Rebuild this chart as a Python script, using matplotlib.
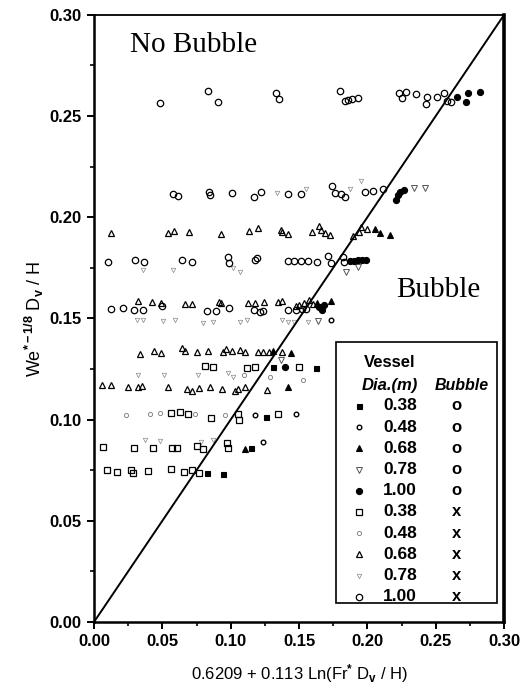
import numpy as np
import matplotlib
matplotlib.use('Agg')
import matplotlib.pyplot as plt
from matplotlib.patches import Rectangle
from matplotlib.ticker import MultipleLocator

plt.rcParams['font.family'] = ['Liberation Sans', 'DejaVu Sans']
plt.rcParams['font.weight'] = 'bold'
plt.rcParams['mathtext.fontset'] = 'custom'
plt.rcParams['mathtext.rm'] = 'Liberation Sans:bold'
plt.rcParams['mathtext.it'] = 'Liberation Sans:bold'
plt.rcParams['mathtext.bf'] = 'Liberation Sans:bold'
plt.rcParams['mathtext.default'] = 'rm'

# ---- data: vessel diameter (m) / bubble observed (o) or not (x) ----
# 0.38 m, bubble
x038_o = [0.0829, 0.0946, 0.1145, 0.1255, 0.1313, 0.1621]
y038_o = [0.0737, 0.0732, 0.0860, 0.1013, 0.1260, 0.1256]
# 0.48 m, bubble
x048_o = [0.1181, 0.1475, 0.1233, 0.1731]
y048_o = [0.1023, 0.1028, 0.0890, 0.1493]
# 0.68 m, bubble
x068_o = [0.2054, 0.2091, 0.2164, 0.1629, 0.1731, 0.1306, 0.1438, 0.1423, 0.1108]
y068_o = [0.1943, 0.1923, 0.1913, 0.1577, 0.1587, 0.1340, 0.1330, 0.1162, 0.0855]
# 0.78 m, bubble
x078_o = [0.2340, 0.2421, 0.1841, 0.1930, 0.1365, 0.1636]
y078_o = [0.2145, 0.2145, 0.1730, 0.1755, 0.1295, 0.1488]
# 1.00 m, bubble
x100_o = [0.2656, 0.2722, 0.2737, 0.2825, 0.2208, 0.2223, 0.2238, 0.2267,
          0.1871, 0.1900, 0.1930, 0.1959, 0.1988, 0.1643, 0.1665, 0.1680, 0.1401]
y100_o = [0.2595, 0.2570, 0.2615, 0.2620, 0.2085, 0.2111, 0.2126, 0.2135,
          0.1785, 0.1785, 0.1789, 0.1789, 0.1789, 0.1557, 0.1542, 0.1567, 0.1260]

# 0.38 m, no bubble
x038_x = [0.0814, 0.0873, 0.1123, 0.1181, 0.1497,
          0.0565, 0.0631, 0.0690, 0.0858, 0.1056, 0.1064, 0.1343,
          0.0066, 0.0293, 0.0433, 0.0572, 0.0609, 0.0756, 0.0800, 0.0976, 0.0983,
          0.0095, 0.0169, 0.0271, 0.0286, 0.0396, 0.0565, 0.0660, 0.0719, 0.0770]
y038_x = [0.1265, 0.1260, 0.1256, 0.1260, 0.1260,
          0.1033, 0.1038, 0.1028, 0.1008, 0.1028, 0.0998, 0.1028,
          0.0865, 0.0860, 0.0860, 0.0860, 0.0860, 0.0870, 0.0855, 0.0885, 0.0860,
          0.0751, 0.0741, 0.0751, 0.0737, 0.0746, 0.0756, 0.0741, 0.0751, 0.0737]
# 0.48 m, no bubble
x048_x = [0.0235, 0.0410, 0.0480, 0.0740, 0.0960, 0.1526, 0.1100, 0.1290]
y048_x = [0.1025, 0.1030, 0.1035, 0.1030, 0.1025, 0.1196, 0.1220, 0.1210]
# 0.68 m, no bubble
x068_x = [0.0125, 0.0543, 0.0587, 0.0697, 0.0932, 0.1137, 0.1203, 0.1365, 0.1379,
          0.1423, 0.1592, 0.1643, 0.1658, 0.1687, 0.1724, 0.1893, 0.1937, 0.1952, 0.1996,
          0.0323, 0.0426, 0.0492, 0.0668, 0.0719, 0.0917, 0.0932, 0.1130, 0.1181,
          0.1247, 0.1343, 0.1379, 0.1475, 0.1497, 0.1533, 0.1570, 0.1599,
          0.0337, 0.0440, 0.0492, 0.0646, 0.0668, 0.0756, 0.0836, 0.0946, 0.0968,
          0.1012, 0.1071, 0.1108, 0.1203, 0.1240, 0.1277, 0.1379,
          0.0059, 0.0125, 0.0249, 0.0323, 0.0352, 0.0543, 0.0682, 0.0719, 0.0770,
          0.0851, 0.0939, 0.1034, 0.1056, 0.1108, 0.1269]
y068_x = [0.1923, 0.1923, 0.1933, 0.1928, 0.1918, 0.1933, 0.1948, 0.1938, 0.1928,
          0.1918, 0.1928, 0.1958, 0.1938, 0.1923, 0.1913, 0.1908, 0.1928, 0.1953, 0.1943,
          0.1587, 0.1582, 0.1577, 0.1572, 0.1572, 0.1582, 0.1577, 0.1577, 0.1577,
          0.1582, 0.1582, 0.1587, 0.1562, 0.1567, 0.1577, 0.1592, 0.1572,
          0.1325, 0.1340, 0.1330, 0.1354, 0.1340, 0.1335, 0.1340, 0.1335, 0.1350,
          0.1340, 0.1345, 0.1335, 0.1335, 0.1335, 0.1335, 0.1335,
          0.1172, 0.1172, 0.1162, 0.1162, 0.1167, 0.1162, 0.1152, 0.1142, 0.1157,
          0.1162, 0.1152, 0.1142, 0.1152, 0.1162, 0.1147]
# 0.78 m, no bubble
x078_x = [0.0315, 0.0360, 0.0506, 0.0594, 0.0800, 0.0873, 0.1071, 0.1123,
          0.1379, 0.1416, 0.1460, 0.1563,
          0.0370, 0.0480, 0.0780, 0.0870,
          0.0360, 0.0580, 0.1020, 0.1070,
          0.0320, 0.0510, 0.0760, 0.0980, 0.1020,
          0.1340, 0.1550, 0.1870, 0.1950]
y078_x = [0.1493, 0.1490, 0.1488, 0.1490, 0.1478, 0.1483, 0.1483, 0.1493,
          0.1493, 0.1483, 0.1483, 0.1483,
          0.0900, 0.0895, 0.0890, 0.0900,
          0.1740, 0.1740, 0.1750, 0.1730,
          0.1220, 0.1220, 0.1220, 0.1230, 0.1210,
          0.2120, 0.2140, 0.2140, 0.2180]
# 1.00 m, no bubble
x100_x = [0.0484, 0.0836, 0.0910, 0.1328, 0.1350, 0.1797, 0.1834, 0.1856, 0.1886,
          0.1930, 0.2230, 0.2252, 0.2282, 0.2355, 0.2428, 0.2436, 0.2509, 0.2561,
          0.2583, 0.2612,
          0.0580, 0.0616, 0.0844, 0.0851, 0.1012, 0.1174, 0.1225, 0.1416, 0.1511,
          0.1739, 0.1761, 0.1805, 0.1834, 0.1981, 0.2040, 0.2113,
          0.0103, 0.0301, 0.0367, 0.0646, 0.0719, 0.0983, 0.0990, 0.1181, 0.1196,
          0.1416, 0.1460, 0.1511, 0.1563, 0.1629, 0.1709, 0.1731, 0.1820, 0.1827,
          0.0125, 0.0213, 0.0293, 0.0359, 0.0499, 0.0829, 0.0895, 0.0990, 0.1167,
          0.1240, 0.1211, 0.1416, 0.1475, 0.1519, 0.1548]
y100_x = [0.2566, 0.2624, 0.2570, 0.2615, 0.2585, 0.2624, 0.2575, 0.2580, 0.2585,
          0.2590, 0.2615, 0.2590, 0.2620, 0.2610, 0.2561, 0.2595, 0.2595, 0.2615,
          0.2575, 0.2570,
          0.2116, 0.2106, 0.2126, 0.2111, 0.2121, 0.2101, 0.2126, 0.2116, 0.2116,
          0.2155, 0.2121, 0.2116, 0.2101, 0.2126, 0.2131, 0.2140,
          0.1780, 0.1789, 0.1780, 0.1789, 0.1780, 0.1804, 0.1775, 0.1789, 0.1799,
          0.1785, 0.1785, 0.1785, 0.1785, 0.1780, 0.1809, 0.1775, 0.1804, 0.1780,
          0.1547, 0.1552, 0.1542, 0.1542, 0.1562, 0.1537, 0.1537, 0.1552, 0.1542,
          0.1537, 0.1532, 0.1542, 0.1542, 0.1547, 0.1547]

dia_labels = ['0.38', '0.48', '0.68', '0.78', '1.00'] * 2
bubble_labels = ['o'] * 5 + ['x'] * 5

# marker style for each series, same order as the key
styles = [
    dict(marker='s', ms=3.6, mfc='black', mec='black', mew=0.8),
    dict(marker='o', ms=3.3, mfc='none', mec='black', mew=1.0),
    dict(marker='^', ms=4.6, mfc='black', mec='black', mew=0.8),
    dict(marker='v', ms=4.0, mfc='none', mec='#555555', mew=0.7),
    dict(marker='o', ms=4.4, mfc='black', mec='black', mew=0.8),
    dict(marker='s', ms=3.8, mfc='none', mec='black', mew=0.9),
    dict(marker='o', ms=3.0, mfc='none', mec='#777777', mew=0.6),
    dict(marker='^', ms=4.6, mfc='none', mec='black', mew=0.9),
    dict(marker='v', ms=3.2, mfc='none', mec='#888888', mew=0.5),
    dict(marker='o', ms=4.6, mfc='none', mec='black', mew=0.9),
]
series = [(x038_o, y038_o), (x048_o, y048_o), (x068_o, y068_o), (x078_o, y078_o),
          (x100_o, y100_o), (x038_x, y038_x), (x048_x, y048_x), (x068_x, y068_x),
          (x078_x, y078_x), (x100_x, y100_x)]

fig = plt.figure(figsize=(5.27, 6.93), dpi=100)
ax = fig.add_axes([0.1784, 0.1025, 0.778, 0.876])

# draw faint series first so the solid markers sit on top
for i in [8, 6, 5, 7, 9, 3, 1, 0, 2, 4]:
    xs, ys = series[i]
    ax.plot(xs, ys, ls='none', **styles[i])

# boundary line between bubble / no-bubble regions
ax.plot([0, 0.3], [0, 0.3], color='black', lw=1.4)

ax.set_xlim(0, 0.30)
ax.set_ylim(0, 0.30)
ax.xaxis.set_major_locator(MultipleLocator(0.05))
ax.xaxis.set_minor_locator(MultipleLocator(0.025))
ax.yaxis.set_major_locator(MultipleLocator(0.05))
ax.yaxis.set_minor_locator(MultipleLocator(0.025))
ax.xaxis.set_major_formatter(plt.FormatStrFormatter('%.2f'))
ax.yaxis.set_major_formatter(plt.FormatStrFormatter('%.2f'))
ax.tick_params(which='major', direction='out', length=5, width=1.4, labelsize=12, pad=4)
ax.tick_params(which='minor', direction='out', length=3, width=1.2)
for side, lw in [('left', 1.8), ('bottom', 1.8), ('top', 1.3), ('right', 2.6)]:
    ax.spines[side].set_linewidth(lw)

ax.set_xlabel(r'0.6209 + 0.113 Ln(Fr$^{*}$ D$_{v}$ / H)', fontsize=12, labelpad=9)
ax.set_ylabel(r'We$^{*-1/8}$ D$_{v}$ / H', fontsize=13, labelpad=2)

ax.text(0.088, 0.939, 'No Bubble', transform=ax.transAxes, family='Liberation Serif',
        fontweight='normal', fontsize=21, va='baseline', ha='left')
ax.text(0.737, 0.535, 'Bubble', transform=ax.transAxes, family='Liberation Serif',
        fontweight='normal', fontsize=21, va='baseline', ha='left')

# key box
ax.add_patch(Rectangle((0.590, 0.031), 0.393, 0.430, transform=ax.transAxes,
                       facecolor='white', edgecolor='black', lw=1.2, zorder=5))
ax.text(0.722, 0.428, 'Vessel', transform=ax.transAxes, fontsize=12,
        ha='center', va='center', zorder=6)
ax.text(0.722, 0.390, 'Dia.(m)', transform=ax.transAxes, fontsize=12, style='italic',
        ha='center', va='center', zorder=6)
ax.text(0.898, 0.390, 'Bubble', transform=ax.transAxes, fontsize=11.5, style='italic',
        ha='center', va='center', zorder=6)
for i in range(10):
    yy = (622 - (406 + 21.2 * i)) / 607
    ax.plot([0.646], [yy], transform=ax.transAxes, clip_on=False, zorder=6, ls='none',
            **styles[i])
    ax.text(0.746, yy, dia_labels[i], transform=ax.transAxes, fontsize=12.5,
            ha='center', va='center', zorder=6)
    ax.text(0.885, yy, bubble_labels[i], transform=ax.transAxes, fontsize=12,
            ha='center', va='center', zorder=6)

fig.savefig('out.png', dpi=100)
